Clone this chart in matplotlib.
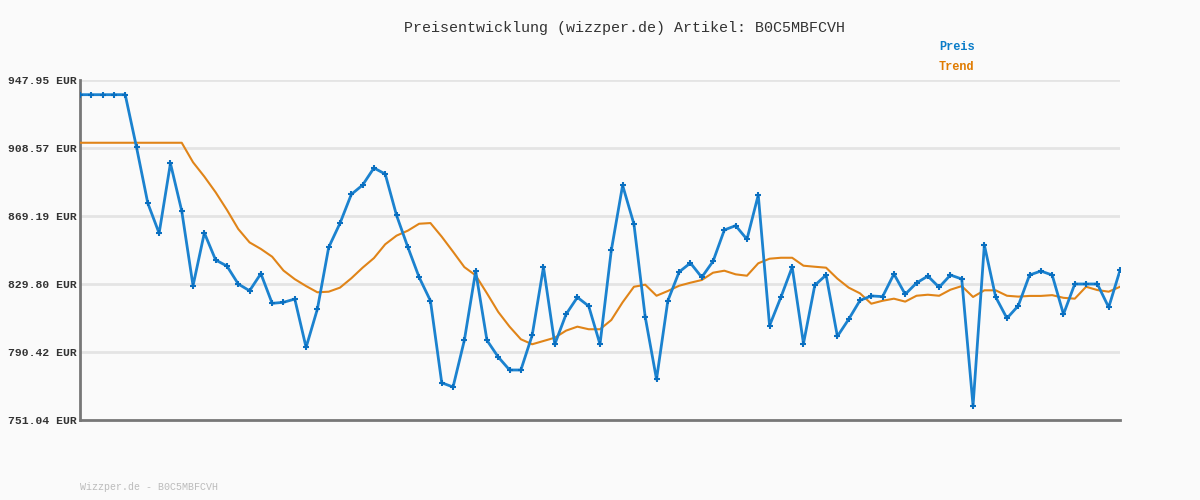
import matplotlib
matplotlib.use("Agg")
import matplotlib.pyplot as plt

# prices (EUR), one point per step
preis = [939.45, 939.45, 939.45, 939.45, 939.45, 909.0, 876.55, 859.2, 899.7, 872.1,
         828.8, 859.4, 843.7, 840.2, 829.8, 825.9, 835.8, 818.6, 819.2, 821.1,
         793.1, 815.3, 851.05, 865.0, 881.7, 887.1, 897.0, 893.5, 869.6, 851.2,
         833.7, 820.1, 772.6, 770.15, 797.2, 837.2, 797.2, 787.5, 780.0, 780.0,
         800.1, 839.6, 794.9, 812.3, 822.1, 817.0, 794.9, 849.3, 886.96, 864.55,
         810.7, 774.6, 820.1, 836.8, 841.97, 833.7, 842.95, 861.1, 863.6, 855.7,
         881.35, 805.7, 822.1, 839.6, 795.3, 829.05, 835.0, 799.5, 809.4, 820.3,
         822.9, 822.5, 835.6, 823.85, 830.4, 834.4, 827.9, 835.0, 832.7, 759.3,
         852.4, 822.3, 809.95, 817.2, 835.0, 837.3, 835.0, 812.3, 829.8, 829.8,
         829.8, 816.3, 837.7]

trend = [911.6, 911.6, 911.6, 911.6, 911.6, 911.6, 911.6, 911.6, 911.6, 911.6,
         900.3, 892.0, 882.9, 872.7, 861.65, 853.9, 850.1, 845.6, 837.6, 832.6,
         828.6, 825.0, 825.35, 827.7, 833.1, 839.25, 844.8, 852.8, 857.8, 860.7,
         864.7, 865.1, 857.2, 848.5, 839.6, 834.8, 824.4, 813.6, 805.1, 797.8,
         794.9, 796.8, 798.7, 802.8, 805.1, 803.6, 803.6, 808.95, 819.2, 828.2,
         829.4, 823.0, 825.75, 828.8, 830.55, 832.1, 836.35, 837.5, 835.4, 834.6,
         841.8, 844.45, 845.0, 845.0, 840.4, 839.8, 839.25, 832.9, 827.7, 824.4,
         818.4, 820.1, 821.3, 819.6, 823.0, 823.6, 823.0, 826.5, 828.6, 822.3,
         826.15, 826.15, 823.0, 822.5, 822.9, 822.9, 823.35, 821.8, 821.3, 828.2,
         826.3, 825.35, 828.2]

yticks = [751.04, 790.42, 829.80, 869.19, 908.57, 947.95]
ytick_labels = ["%.2f EUR" % v for v in yticks]

x = list(range(len(preis)))

bg = "#fafafa"
mono = ["Liberation Mono", "DejaVu Sans Mono"]

fig = plt.figure(figsize=(12, 5), dpi=100, facecolor=bg)
ax = fig.add_axes([80/1200, 80/500, 1040/1200, 340/500], facecolor=bg)

for v in yticks[1:]:
    ax.axhline(v, color="#e4e4e4", lw=2, zorder=1)

ax.plot(x, trend, color="#e08418", lw=1.5, zorder=3)
ax.plot(x, preis, color="#1b82cf", lw=2, marker="+", ms=4, mew=1.5,
        mec="#0a6fc0", zorder=4)

ax.set_xlim(0, len(preis) - 1)
ax.set_ylim(yticks[0], yticks[-1])
ax.set_yticks(yticks)
ax.set_yticklabels(ytick_labels, fontfamily=mono, fontsize=8.2,
                   fontweight="bold", color="#333333")
ax.set_xticks([])
ax.tick_params(axis="y", length=0, pad=2)

for s in ["top", "right"]:
    ax.spines[s].set_visible(False)
for s in ["left", "bottom"]:
    ax.spines[s].set_color("#777777")
    ax.spines[s].set_linewidth(2)

fig.text(624/1200, 1 - 28/500, "Preisentwicklung (wizzper.de) Artikel: B0C5MBFCVH",
         ha="center", va="center", fontfamily=mono, fontsize=10.8, color="#333333")
fig.text(939/1200, 1 - 47/500, "Preis", ha="left", va="center",
         fontfamily=mono, fontsize=8.6, fontweight="bold", color="#0a7cc8")
fig.text(939/1200, 1 - 67/500, "Trend", ha="left", va="center",
         fontfamily=mono, fontsize=8.6, fontweight="bold", color="#e07b00")
fig.text(80/1200, 1 - 487/500, "Wizzper.de - B0C5MBFCVH", ha="left", va="center",
         fontfamily=mono, fontsize=7.2, color="#bbbbbb")

fig.savefig("out.png", dpi=100, facecolor=bg)
